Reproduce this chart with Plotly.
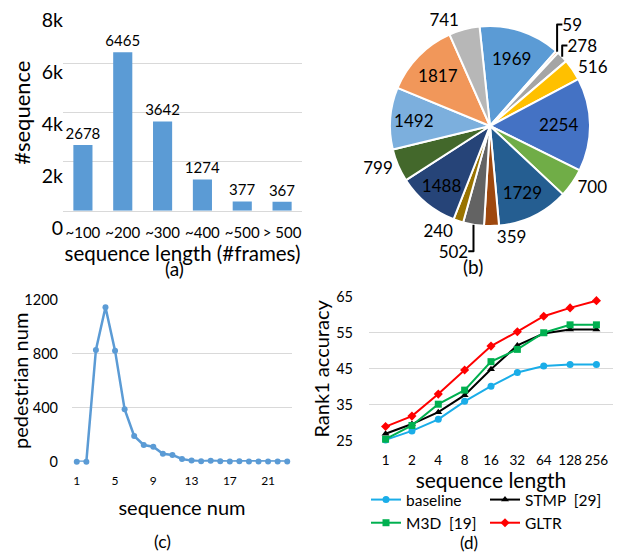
import plotly.graph_objects as go

FONT = "Lato"

# (a) sequence length histogram
len_bins = ["~100", "~200", "~300", "~400", "~500", "> 500"]
len_counts = [2678, 6465, 3642, 1274, 377, 367]
a_ticks = [0, 2000, 4000, 6000, 8000]
a_ticktext = ["0", "2k", "4k", "6k", "8k"]

# (b) pie
pie_values = [1969, 59, 278, 516, 2254, 700, 1729, 359, 502, 240, 1488, 799, 1492, 1817, 741]
pie_colors = ["#5B9BD5", "#ED7D31", "#A5A5A5", "#FFC000", "#4472C4", "#70AD47",
              "#255E91", "#9E480E", "#636363", "#997300", "#264478", "#43682B",
              "#7CAFDD", "#F1975A", "#B7B7B7"]
pie_textpos = ["inside", "outside", "outside", "outside", "inside", "outside",
               "inside", "outside", "outside", "outside", "inside", "outside",
               "inside", "inside", "outside"]

# (c) pedestrians per sequence count
seq_num = list(range(1, 24))
ped_num = [0, 0, 829, 1146, 824, 389, 191, 124, 111, 59, 50, 20, 8, 3, 7, 3, 2, 3, 2, 2, 2, 2, 2]
c_ticks = [1, 5, 9, 13, 17, 21]

# (d) rank1 accuracy vs sequence length
seq_len = ["1", "2", "4", "8", "16", "32", "64", "128", "256"]
baseline = [25.3, 27.8, 31.0, 36.0, 40.2, 44.0, 45.8, 46.2, 46.2]
stmp = [27.0, 29.7, 33.0, 37.7, 44.9, 51.5, 54.8, 55.9, 55.9]
m3d = [25.5, 29.3, 35.2, 39.1, 47.0, 50.4, 55.0, 57.2, 57.2]
gltr = [29.0, 31.9, 38.0, 44.7, 51.3, 55.3, 59.6, 61.9, 63.9]

# page body has an 8px margin: the figure fills the rest of the 621x552 window
OFF = 8
W, H = 621 - OFF, 552 - OFF
def px(x):
    return (x - OFF) / W
def py(y):
    return 1 - (y - OFF) / H

fig = go.Figure()

# (a)
fig.add_trace(go.Bar(x=len_bins, y=len_counts, marker_color="#5B9BD5",
                     text=[str(v) for v in len_counts], textposition="outside",
                     constraintext="none",
                     textfont=dict(size=15, color="black", family=FONT),
                     cliponaxis=False, xaxis="x", yaxis="y", showlegend=False,
                     hoverinfo="skip"))
# carrier for the tick-label axis of (a)
fig.add_trace(go.Scatter(x=len_bins, y=len_counts, mode="none", xaxis="x", yaxis="y2",
                         showlegend=False, hoverinfo="skip"))

# (b)
fig.add_trace(go.Pie(values=pie_values, marker=dict(colors=pie_colors, line=dict(color="white", width=2)),
                     sort=False, direction="clockwise", rotation=-6,
                     texttemplate="%{value}", textposition=pie_textpos,
                     insidetextorientation="horizontal",
                     textfont=dict(size=17, color="black", family=FONT),
                     domain=dict(x=[px(390), px(590)], y=[py(226), py(26)]),
                     showlegend=False))

# (c)
fig.add_trace(go.Scatter(x=seq_num, y=ped_num, mode="lines+markers",
                         line=dict(color="#5B9BD5", width=2.5),
                         marker=dict(size=6, color="#5B9BD5"),
                         xaxis="x3", yaxis="y3", showlegend=False, cliponaxis=False))

# (d)
series = [("baseline", baseline, "#1AADE8", "circle", "legend"),
          ("STMP\u00a0 [29]", stmp, "black", "triangle-up", "legend2"),
          ("M3D\u00a0 [19]", m3d, "#00B050", "square", "legend"),
          ("GLTR", gltr, "#FF0000", "diamond", "legend2")]
for name, vals, col, sym, lg in series:
    fig.add_trace(go.Scatter(x=seq_len, y=vals, name=name, mode="lines+markers",
                             line=dict(color=col, width=2),
                             marker=dict(symbol=sym, size=7, color=col),
                             xaxis="x4", yaxis="y4", cliponaxis=False, legend=lg))

grid = "#D9D9D9"
tickf = lambda s: dict(size=s, color="black", family=FONT)
legend_common = dict(orientation="v", xanchor="left", yanchor="top",
                     font=dict(size=15.5, family=FONT), itemwidth=30,
                     tracegroupgap=0, bgcolor="rgba(0,0,0,0)")

fig.update_layout(
    width=W, height=H, margin=dict(l=0, r=0, t=0, b=0),
    template="none", paper_bgcolor="white", plot_bgcolor="rgba(0,0,0,0)",
    font=dict(family=FONT, color="black"),
    bargap=0.52,
    xaxis=dict(domain=[px(63), px(302)], anchor="y", showgrid=False, showline=True,
               linecolor=grid, linewidth=1, ticks="", tickfont=tickf(15), tickangle=0,
               ticklabelstandoff=8,
               title=dict(text="sequence length (#frames)", font=dict(size=20.5), standoff=0),
               automargin=False),
    yaxis=dict(domain=[py(210.7), py(14.7)], anchor="x", range=[0, 8000],
               tickvals=a_ticks, showticklabels=False, showgrid=True, gridcolor=grid,
               zeroline=False, ticks="",
               title=dict(text="#sequence", font=dict(size=22), standoff=30),
               automargin=False),
    yaxis2=dict(domain=[py(228), py(20.5)], anchor="free", position=px(63), side="left",
                range=[-5, 8005], tickvals=a_ticks, ticktext=a_ticktext,
                showgrid=False, zeroline=False, showline=False, ticks="",
                ticklabeloverflow="allow",
                tickfont=tickf(19.5), automargin=False),
    xaxis3=dict(domain=[px(72), px(292)], anchor="y3", range=[0.5, 23.5], tickvals=c_ticks,
                showgrid=False, zeroline=False, showline=False, ticks="", tickfont=tickf(12),
                tickangle=0, ticklabelstandoff=10,
                title=dict(text="sequence num", font=dict(size=20), standoff=14),
                automargin=False),
    yaxis3=dict(domain=[py(461.7), py(300)], anchor="x3", range=[0, 1200],
                tickvals=[0, 400, 800, 1200], showgrid=True, gridcolor=grid,
                zeroline=False, ticks="", tickfont=tickf(14.5), ticklabelstandoff=13,
                title=dict(text="pedestrian num", font=dict(size=20), standoff=0),
                automargin=False),
    xaxis4=dict(domain=[px(369), px(613)], anchor="y4", type="category",
                showgrid=False, showline=False, ticks="", tickfont=tickf(13.5), tickangle=0,
                ticklabelstandoff=9,
                title=dict(text="sequence length", font=dict(size=21), standoff=0),
                automargin=False),
    yaxis4=dict(domain=[py(441), py(296.7)], anchor="x4", range=[25, 65],
                tickvals=[25, 35, 45, 55, 65], showgrid=True, gridcolor=grid,
                zeroline=False, ticks="", tickfont=tickf(14.5), ticklabelstandoff=15,
                title=dict(text="Rank1 accuracy", font=dict(size=20), standoff=1),
                automargin=False),
    legend=dict(x=px(366), y=py(483), **legend_common),
    legend2=dict(x=px(485), y=py(483), **legend_common),
    annotations=[
        dict(text="(a)", x=px(163), y=py(268), xref="paper", yref="paper", showarrow=False,
             yanchor="middle", font=dict(size=19)),
        dict(text="(b)", x=px(485), y=py(266), xref="paper", yref="paper", showarrow=False,
             yanchor="middle", font=dict(size=19)),
        dict(text="(c)", x=px(152), y=py(541), xref="paper", yref="paper", showarrow=False,
             yanchor="middle", font=dict(size=17.5)),
        dict(text="(d)", x=px(480), y=py(542), xref="paper", yref="paper", showarrow=False,
             yanchor="middle", font=dict(size=17)),
    ],
)

fig.write_html("out.html")
